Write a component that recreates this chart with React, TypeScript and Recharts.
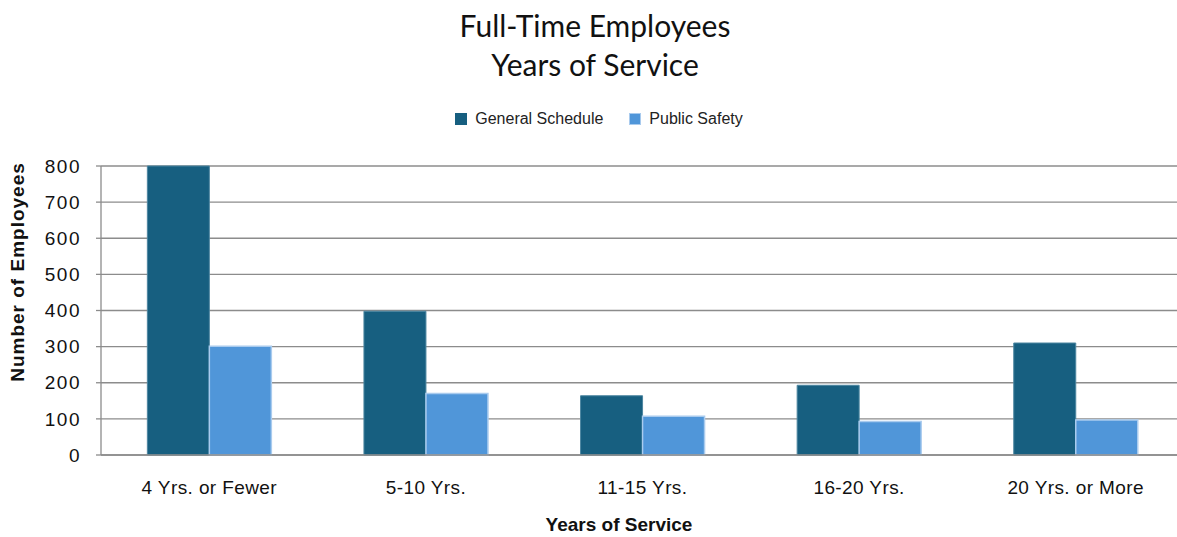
import { BarChart, Bar, XAxis, YAxis, CartesianGrid } from 'recharts'

const categories = ['4 Yrs. or Fewer', '5-10 Yrs.', '11-15 Yrs.', '16-20 Yrs.', '20 Yrs. or More']
const generalSchedule = [800, 398, 164, 193, 310]
const publicSafety = [301, 170, 107, 93, 97]
const yTicks = [0, 100, 200, 300, 400, 500, 600, 700, 800]

const GS_COLOR = '#175f80'
const PS_COLOR = '#5096d9'
const GRID = '#8c8c8c'
const SANS = '"Liberation Sans", Arial, sans-serif'

const data = categories.map((name, i) => ({
  name,
  gs: generalSchedule[i],
  ps: publicSafety[i],
}))

function LegendContent() {
  const items = [
    { label: 'General Schedule', color: GS_COLOR, border: GS_COLOR },
    { label: 'Public Safety', color: PS_COLOR, border: '#a9cbee' },
  ]
  return (
    <div style={{ display: 'flex', justifyContent: 'center', gap: 26, fontFamily: SANS, fontSize: 16, color: '#222' }}>
      {items.map((it) => (
        <div key={it.label} style={{ display: 'flex', alignItems: 'center' }}>
          <span
            style={{
              display: 'inline-block',
              width: 10,
              height: 10,
              background: it.color,
              border: `1px solid ${it.border}`,
              marginRight: 8,
            }}
          />
          <span>{it.label}</span>
        </div>
      ))}
    </div>
  )
}

export default function App() {
  return (
    <div style={{ position: 'absolute', left: 0, top: 0, width: 1177, height: 537, overflow: 'hidden', background: '#fff' }}>
      <div
        style={{
          position: 'absolute',
          left: 0,
          top: 6,
          width: 1190,
          textAlign: 'center',
          fontFamily: 'Lato, "Open Sans", sans-serif',
          fontSize: 30,
          lineHeight: '39px',
          color: '#111',
        }}
      >
        Full-Time Employees
        <br />
        Years of Service
      </div>
      <div style={{ position: 'absolute', left: 0, top: 110, width: 1198 }}>
        <LegendContent />
      </div>
      <div
        style={{
          position: 'absolute',
          left: 18,
          top: 272,
          transform: 'translate(-50%, -50%) rotate(-90deg)',
          whiteSpace: 'nowrap',
          fontFamily: SANS,
          fontWeight: 'bold',
          fontSize: 19,
          letterSpacing: 1,
          color: '#111',
        }}
      >
        Number of Employees
      </div>
      <div
        style={{
          position: 'absolute',
          left: 0,
          top: 514,
          width: 1238,
          textAlign: 'center',
          fontFamily: SANS,
          fontWeight: 'bold',
          fontSize: 19,
          color: '#111',
        }}
      >
        Years of Service
      </div>
      <div style={{ position: 'absolute', left: 0, top: 0 }}>
        <BarChart
          width={1184}
          height={537}
          data={data}
          margin={{ top: 166, right: 0, left: 0, bottom: 42 }}
          barCategoryGap="21.4%"
          barGap={0}
        >
          <CartesianGrid vertical={false} stroke={GRID} strokeWidth={1.3} />
          <XAxis
            dataKey="name"
            height={40}
            tickLine={false}
            tickSize={0}
            tickMargin={26}
            axisLine={{ stroke: GRID, strokeWidth: 1.3 }}
            tick={{ fill: '#111', fontSize: 19, fontFamily: SANS, letterSpacing: 0.4 }}
            interval={0}
          />
          <YAxis
            width={101}
            domain={[0, 800]}
            ticks={yTicks}
            interval={0}
            tickSize={5}
            tickMargin={15}
            tickLine={{ stroke: GRID, strokeWidth: 1.3 }}
            axisLine={{ stroke: GRID, strokeWidth: 1.3 }}
            tick={{ fill: '#111', fontSize: 19, fontFamily: SANS, letterSpacing: 1.5 }}
          />
          <Bar dataKey="gs" name="General Schedule" fill={GS_COLOR} stroke="#4d86a0" strokeWidth={1} isAnimationActive={false} />
          <Bar dataKey="ps" name="Public Safety" fill={PS_COLOR} stroke="#a9cbee" strokeWidth={1.5} isAnimationActive={false} />
        </BarChart>
      </div>
    </div>
  )
}
